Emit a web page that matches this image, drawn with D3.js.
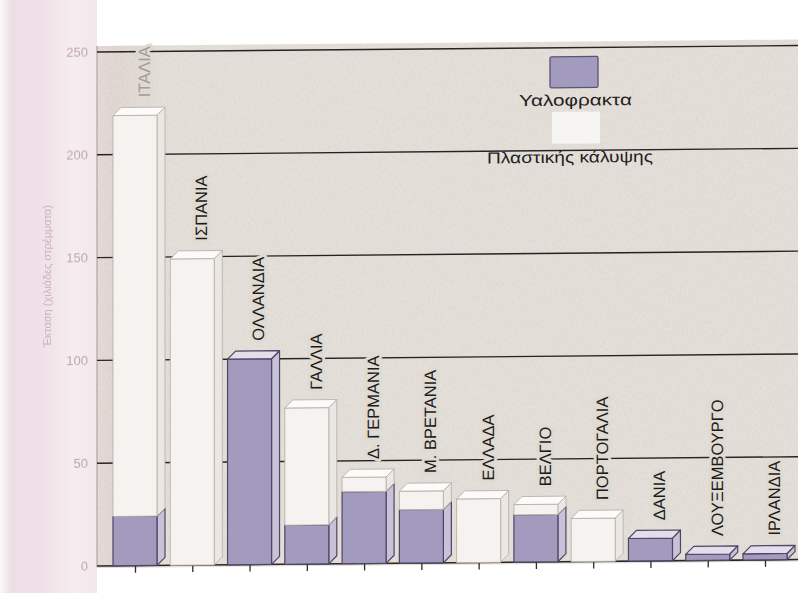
<!DOCTYPE html>
<html>
<head>
<meta charset="utf-8">
<script src="https://cdn.jsdelivr.net/npm/d3@7"></script>
<style>
  html, body { margin: 0; padding: 0; background: #ffffff; }
  svg { display: block; }
  text { font-family: "Liberation Sans", Arial, sans-serif; }
</style>
</head>
<body>
<svg id="chart" width="798" height="593"></svg>
<script>
// Greenhouse area per country (thousand stremmata): glass vs plastic cover
const countries = ["ΙΤΑΛΙΑ", "ΙΣΠΑΝΙΑ", "ΟΛΛΑΝΔΙΑ", "ΓΑΛΛΙΑ", "Δ. ΓΕΡΜΑΝΙΑ", "Μ. ΒΡΕΤΑΝΙΑ",
                   "ΕΛΛΑΔΑ", "ΒΕΛΓΙΟ", "ΠΟΡΤΟΓΑΛΙΑ", "ΔΑΝΙΑ", "ΛΟΥΞΕΜΒΟΥΡΓΟ", "ΙΡΛΑΝΔΙΑ"];
const glass   = [24, 0, 100, 19, 35, 26, 0, 23, 0, 11, 3, 3];
const plastic = [195, 149, 0, 57, 7, 9, 31, 5, 21, 0, 0, 0];
const yTicks = [0, 50, 100, 150, 200, 250];
const seriesNames = ["Υαλοφρακτα", "Πλαστικής κάλυψης"];
const yTitle = "Έκταση (χιλιάδες στρέμματα)";

const svg = d3.select("#chart");
const W = 798, H = 593;
const plotL = 97, plotR = 798, plotT = 52, plotB = 566;

const y = d3.scaleLinear().domain([0, 250]).range([plotB, plotT]);
const x = d3.scalePoint().domain(countries).range([135, 765]);

const defs = svg.append("defs");

// pinkish strip behind the value axis
const lg = defs.append("linearGradient").attr("id", "strip").attr("x1", 0).attr("x2", 1);
[[0, "#fbf8f8"], [0.12, "#eedee5"], [0.45, "#efe1e7"], [0.75, "#f6edf0"], [1, "#f2e8eb"]]
  .forEach(([o, c]) => lg.append("stop").attr("offset", o).attr("stop-color", c));

// plot paper, slightly pink toward the left edge
const pg = defs.append("linearGradient").attr("id", "paper").attr("x1", 0).attr("x2", 1);
[[0, "#e2d3d1"], [0.025, "#dbd0c9"], [0.09, "#e0dad3"], [1, "#dfdad2"]]
  .forEach(([o, c]) => pg.append("stop").attr("offset", o).attr("stop-color", c));

// grain of the printed paper
const grain = defs.append("filter").attr("id", "grain").attr("x", 0).attr("y", 0)
  .attr("width", 1).attr("height", 1);
grain.append("feTurbulence").attr("type", "fractalNoise").attr("baseFrequency", "0.8 0.3")
  .attr("numOctaves", 2).attr("seed", 3);
grain.append("feColorMatrix").attr("type", "matrix")
  .attr("values", "0.5 0 0 0 0.6  0.5 0 0 0 0.58  0.5 0 0 0 0.55  0 0 0 0 1");

// soft print for the faded axis text
const soft = defs.append("filter").attr("id", "soft");
soft.append("feGaussianBlur").attr("stdDeviation", 0.7);

svg.append("rect").attr("x", 0).attr("y", 0).attr("width", plotL).attr("height", H)
  .attr("fill", "url(#strip)");

// whole chart sits very slightly tilted on the page
const k = -0.0092;
const g = svg.append("g").attr("transform", `matrix(1,${k},0,1,0,${-k * plotL})`);

g.append("rect").attr("x", plotL).attr("y", plotT - 6).attr("width", plotR - plotL + 10)
  .attr("height", plotB - plotT + 8).attr("fill", "url(#paper)");
g.append("rect").attr("x", plotL).attr("y", plotT - 6).attr("width", plotR - plotL + 10)
  .attr("height", plotB - plotT + 8).attr("filter", "url(#grain)").attr("opacity", 0.22);

// value axis line
g.append("line").attr("x1", plotL).attr("x2", plotL).attr("y1", plotT - 6).attr("y2", plotB + 1)
  .attr("stroke", "#b3a3a6").attr("stroke-width", 1.2);

// gridlines
g.append("g").selectAll("line").data(yTicks.filter(v => v > 0)).join("line")
  .attr("x1", plotL).attr("x2", plotR + 5)
  .attr("y1", d => y(d)).attr("y2", d => y(d))
  .attr("stroke", "#262322").attr("stroke-width", 1.4);

// faint value labels
const yAxis = d3.axisLeft(y).tickValues(yTicks).tickSize(0).tickPadding(9);
const ya = g.append("g").attr("transform", `translate(${plotL},0)`).call(yAxis);
ya.select(".domain").remove();
ya.selectAll("text").attr("fill", "#bfa6b4").attr("font-size", 13)
  .attr("font-family", "Liberation Sans, Arial, sans-serif").attr("filter", "url(#soft)");

svg.append("text")
  .attr("transform", `translate(47,276) rotate(-90)`)
  .attr("text-anchor", "middle").attr("dy", "0.35em")
  .attr("font-size", 11).attr("fill", "#cbb3c0").attr("filter", "url(#soft)").text(yTitle);

// category ticks and baseline
const xAxis = d3.axisBottom(x).tickSize(7).tickFormat("");
const xa = g.append("g").attr("transform", `translate(0,${plotB})`).call(xAxis);
xa.select(".domain").remove();
xa.selectAll("line").attr("stroke", "#2e2b2b").attr("stroke-width", 1.3);
g.append("line").attr("x1", plotL).attr("x2", plotR + 5).attr("y1", plotB).attr("y2", plotB)
  .attr("stroke", "#2a2727").attr("stroke-width", 1.6);

// 3-D bars
const bw = 44, dx = 8, dy = 8, off = -22;
const style = {
  glass:   { front: "#a39bbd", side: "#c8c2d9", topf: "#e2deec", stroke: "#4f4564", sw: 1.2 },
  plastic: { front: "#f5f2ef", side: "#ebe7e3", topf: "#fcfbfa", stroke: "#b9b1ac", sw: 0.9 }
};

const stacks = countries.map((c, i) => {
  const segs = [];
  if (glass[i] > 0) segs.push({ type: "glass", y0: 0, y1: glass[i] });
  if (plastic[i] > 0) segs.push({ type: "plastic", y0: glass[i], y1: glass[i] + plastic[i] });
  return { c, i, segs, total: glass[i] + plastic[i] };
});

const bars = g.append("g");
stacks.forEach(s => {
  const x0 = x(s.c) + off;
  const bg = bars.append("g");
  s.segs.forEach((seg, j) => {
    const st = style[seg.type];
    const yt = y(seg.y1), yb = y(seg.y0);
    bg.append("polygon")
      .attr("points", [[x0 + bw, yt], [x0 + bw + dx, yt - dy], [x0 + bw + dx, yb - dy], [x0 + bw, yb]].join(" "))
      .attr("fill", st.side).attr("stroke", st.stroke).attr("stroke-width", st.sw)
      .attr("stroke-linejoin", "round");
    bg.append("rect").attr("x", x0).attr("y", yt).attr("width", bw).attr("height", yb - yt)
      .attr("fill", st.front).attr("stroke", st.stroke).attr("stroke-width", st.sw);
    if (j === s.segs.length - 1) {
      bg.append("polygon")
        .attr("points", [[x0, yt], [x0 + dx, yt - dy], [x0 + bw + dx, yt - dy], [x0 + bw, yt]].join(" "))
        .attr("fill", st.topf).attr("stroke", st.stroke).attr("stroke-width", st.sw)
        .attr("stroke-linejoin", "round");
    }
  });
});

// country names standing on each bar
g.append("g").selectAll("text").data(stacks).join("text")
  .attr("transform", d => `translate(${x(d.c) + 9},${y(d.total) - dy - 10}) rotate(-90)`)
  .attr("dy", "0.36em").attr("font-size", 16.5)
  .attr("fill", d => d.i === 0 ? "#a39c9a" : "#1c1a1a")
  .attr("stroke", "#dfdad2").attr("stroke-width", 6).attr("paint-order", "stroke")
  .attr("stroke-linejoin", "round")
  .text(d => d.c);

// legend
const leg = g.append("g");
leg.append("rect").attr("x", 550).attr("y", 61).attr("width", 48).attr("height", 31)
  .attr("rx", 1.5).attr("fill", style.glass.front).attr("stroke", "#5d5372").attr("stroke-width", 1.3);
leg.append("text").attr("x", 519).attr("y", 110).attr("font-size", 16).attr("fill", "#1f1d1d")
  .attr("textLength", 113).attr("lengthAdjust", "spacingAndGlyphs").text(seriesNames[0]);
leg.append("rect").attr("x", 552).attr("y", 116).attr("width", 48).attr("height", 32)
  .attr("rx", 1.5).attr("fill", "#f7f5f3");
leg.append("text").attr("x", 487).attr("y", 167).attr("font-size", 16).attr("fill", "#1f1d1d")
  .attr("textLength", 166).attr("lengthAdjust", "spacingAndGlyphs").text(seriesNames[1]);
</script>
</body>
</html>
